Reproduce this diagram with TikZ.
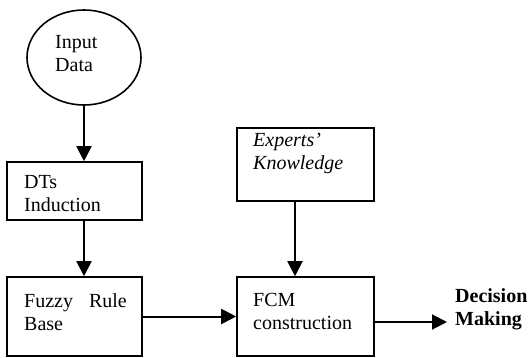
\documentclass[tikz,border=0pt]{standalone}
\usepackage{fontspec}
\setmainfont{Liberation Serif}
\usetikzlibrary{shapes.geometric, arrows.meta, calc}

\begin{document}
\begin{tikzpicture}[x=1pt, y=-1pt,
  box/.style={draw, line width=1.6pt, inner sep=0pt},
  txt/.style={anchor=north west, align=left, inner sep=0pt, font=\fontsize{20}{23}\selectfont},
  flow/.style={line width=2pt, -{Triangle[length=15pt, width=15pt]}}]
\useasboundingbox (0,0) rectangle (528,357);
\node[box, ellipse, minimum width=114pt, minimum height=95pt] (input) at (84,57.5) {};
\node[box, minimum width=135pt, minimum height=58pt] (dts) at (74.5,191) {};
\node[box, minimum width=135pt, minimum height=79pt] (fuzzy) at (74.5,316.5) {};
\node[box, minimum width=137pt, minimum height=73pt] (experts) at (305.5,164.5) {};
\node[box, minimum width=137pt, minimum height=79pt] (fcm) at (305.5,316.5) {};
\node[txt] (inputtxt) at (55,35) {Input\\Data};
\node[txt] (dtstxt) at (24,175) {DTs\\Induction};
\node[txt] (fuzzytxt) at (24,293) {Fuzzy\hspace{16pt}Rule\\Base};
\node[txt] (expertstxt) at (253,133) {\itshape Experts'\\\itshape Knowledge};
\node[txt] (fcmtxt) at (253,293) {FCM\\construction};
\node[txt, font=\fontsize{20}{23}\selectfont\bfseries] (decision) at (455,288) {Decision\\Making};
\coordinate (knowin) at (295,0);
\coordinate (dmin) at (447,322);
\draw[flow] (input.south) -- (input.south |- dts.north);
\draw[flow] (input.south |- dts.south) -- (input.south |- fuzzy.north);
\draw[flow] (experts.south -| knowin) -- (fcm.north -| knowin);
\draw[flow] (fuzzy.east) -- (fcm.west);
\draw[flow] (fcm.east |- dmin) -- (dmin);
\end{tikzpicture}
\end{document}
